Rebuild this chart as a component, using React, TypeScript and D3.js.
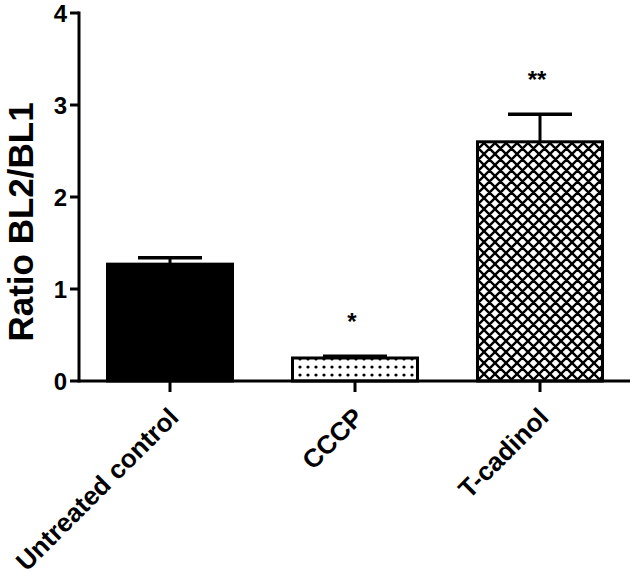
import React from "react";
import * as d3 from "d3";

const categories = ["Untreated control", "CCCP", "T-cadinol"];
const values = [1.27, 0.25, 2.6];
const errors = [0.07, 0.02, 0.3];
const stars = ["", "*", "**"];
const yTicks = [0, 1, 2, 3, 4];

const W = 634, H = 583;
const FONT = "Liberation Sans, Arial, sans-serif";

export default function App() {
  const x = d3.scalePoint<string>().domain(categories).range([170, 540]);
  const y = d3.scaleLinear().domain([0, 4]).range([381, 13]);
  const bw = 125;
  const fills = ["#000", "url(#dots)", "url(#hatch)"];
  return (
    <svg width={W} height={H} style={{ position: "absolute", left: 0, top: 0, background: "#fff" }}>
      <defs>
        <pattern id="dots" patternUnits="userSpaceOnUse" width={8} height={8} x={0} y={3}>
          <rect width={8} height={8} fill="#fff" />
          <circle cx={4} cy={4} r={1.6} fill="#000" />
        </pattern>
        <pattern id="hatch" patternUnits="userSpaceOnUse" width={11} height={11}>
          <rect width={11} height={11} fill="#fff" />
          <path d="M0,0L11,11M11,0L0,11M-1,10L1,12M10,-1L12,1M-1,1L1,-1M10,12L12,10" stroke="#000" strokeWidth={2.4} />
        </pattern>
      </defs>
      {categories.map((c, i) => {
        const cx = x(c)!;
        const top = y(values[i]);
        const et = y(values[i] + errors[i]);
        return (
          <g key={c}>
            <line x1={cx} x2={cx} y1={top} y2={et} stroke="#000" strokeWidth={3} />
            <line x1={cx - 32} x2={cx + 32} y1={et} y2={et} stroke="#000" strokeWidth={3.5} />
            <rect x={cx - bw / 2} y={top} width={bw} height={y(0) - top} fill={fills[i]} stroke="#000" strokeWidth={3} />
            {stars[i] && (
              <text x={cx - 3} y={et - 26} textAnchor="middle" fontFamily={FONT} fontWeight="bold" fontSize={24}>{stars[i]}</text>
            )}
          </g>
        );
      })}
      {/* axes */}
      <line x1={79} x2={79} y1={y(4) - 1.5} y2={y(0) + 1.5} stroke="#000" strokeWidth={3} />
      <line x1={79} x2={630} y1={y(0)} y2={y(0)} stroke="#000" strokeWidth={3} />
      {yTicks.map((t) => (
        <g key={t}>
          <line x1={70} x2={79} y1={y(t)} y2={y(t)} stroke="#000" strokeWidth={3} />
          <text x={67} y={y(t) + 8.5} textAnchor="end" fontFamily={FONT} fontWeight="bold" fontSize={24}>{t}</text>
        </g>
      ))}
      {categories.map((c) => (
        <g key={c}>
          <line x1={x(c)!} x2={x(c)!} y1={y(0)} y2={y(0) + 11} stroke="#000" strokeWidth={3} />
          <text transform={`translate(${x(c)! + 10},${y(0) + 38}) rotate(-45)`} textAnchor="end" fontFamily={FONT} fontWeight="bold" fontSize={26}>{c}</text>
        </g>
      ))}
      <text transform={`translate(33,222) rotate(-90)`} textAnchor="middle" fontFamily={FONT} fontWeight="bold" fontSize={35}>Ratio BL2/BL1</text>
    </svg>
  );
}
